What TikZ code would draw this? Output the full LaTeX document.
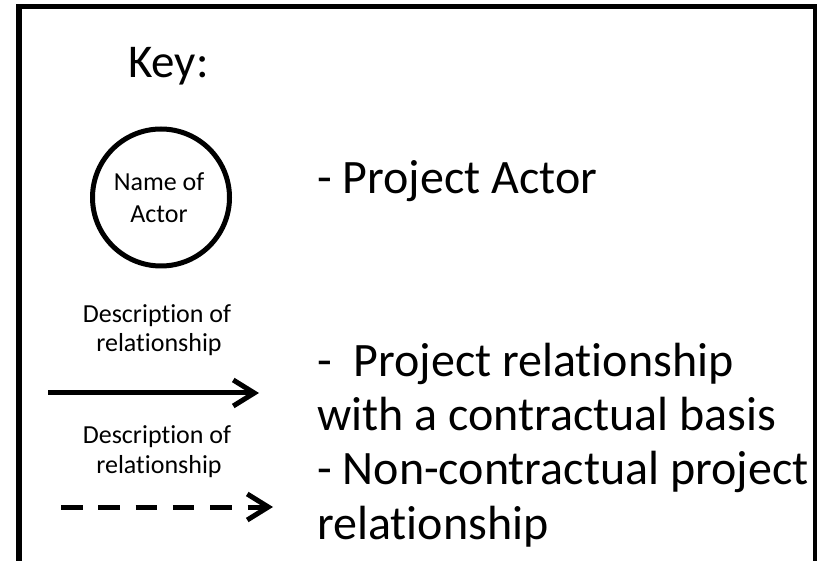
\documentclass[tikz,border=0pt]{standalone}
\usepackage{fontspec}
\setmainfont{Carlito}[Ligatures={NoCommon,NoRequired,NoContextual},Contextuals=NoAlternate]
\usetikzlibrary{arrows.meta}
\begin{document}
\begin{tikzpicture}[x=1pt,y=-1pt,
  big/.style={inner sep=0pt,anchor=base west,font=\fontsize{48}{58}\selectfont},
  small/.style={inner sep=0pt,anchor=base,font=\fontsize{26}{32}\selectfont},
  actor/.style={draw,circle,line width=5pt,minimum size=137pt,inner sep=0pt},
  rel/.style={line width=5pt,-{Straight Barb[length=21pt,width=26pt,line width=5pt]}}
]
\useasboundingbox (0,0) rectangle (817,561);
\draw[line width=5.5pt] (19,6.5) rectangle (816,620);
\node[big,font=\fontsize{47}{56}\selectfont] (key) at (128,78) {Key:};
\node[actor] (act) at (161,197.5) {};
\node[small] (n1) at (159,191) {Name of};
\node[small] (n2) at (159,223) {Actor};
\node[big] (pa) at (317,194) {- Project Actor};
\node[small] (d1) at (157,323) {Descript\kern0pt ion of};
\node[small] (d2) at (159,352) {relat\kern0pt ionship};
\coordinate (s1) at (48,393);
\coordinate (e1) at (259,393);
\draw[rel] (s1) -- (e1);
\node[small] (d3) at (157,443) {Descript\kern0pt ion of};
\node[small] (d4) at (159,473) {relat\kern0pt ionship};
\coordinate (s2) at (61,507);
\coordinate (e2) at (273,507);
\draw[rel,dash pattern=on 21.5pt off 15.8pt] (s2) -- (e2);
\node[big] (r1) at (317,377) {-\ \ Project relat\kern0pt ionship};
\node[big] (r2) at (317,431) {with a contractual basis};
\node[big] (r3) at (317,484) {- Non-contractual project};
\node[big] (r4) at (317,539) {relat\kern0pt ionship};
\end{tikzpicture}
\end{document}
